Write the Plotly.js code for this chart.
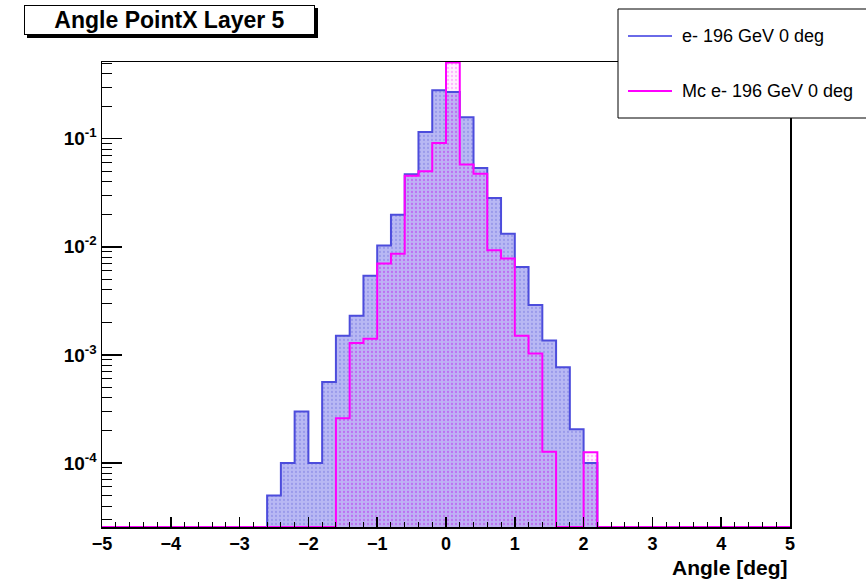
<!DOCTYPE html>
<html><head><meta charset="utf-8">
<script src="https://cdn.plot.ly/plotly-3.0.1.min.js"></script>
<style>html,body{margin:0;padding:0;background:#fff}#chart{width:866px;height:580px}</style>
</head><body><div id="chart"></div>
<script>
// ---- data ----
const histLow = -5, histHigh = 5, binWidth = 0.2;
const binCenters = [-2.5,-2.3,-2.1,-1.9,-1.7,-1.5,-1.3,-1.1,-0.9,-0.7,-0.5,-0.3,-0.1,0.1,0.3,0.5,0.7,0.9,1.1,1.3,1.5,1.7,1.9,2.1];
const dataValues = [5.0e-5,1.0e-4,3.0e-4,1.0e-4,5.6e-4,1.5e-3,2.3e-3,5.4e-3,1.03e-2,1.98e-2,4.68e-2,0.115,0.280,0.270,0.158,0.0534,0.0282,0.0132,0.0065,0.0029,0.00136,7.7e-4,2.05e-4,1.0e-4];
const mcValues = [0,0,0,0,0,2.6e-4,1.29e-3,1.41e-3,7.0e-3,8.6e-3,4.53e-2,0.050,0.091,0.505,0.0578,0.0474,0.0093,0.0078,0.0015,0.00103,1.27e-4,0,0,1.26e-4];
const dataName = "e- 196 GeV 0 deg";
const mcName = "Mc e- 196 GeV 0 deg";
const xTickVals = [-5,-4,-3,-2,-1,0,1,2,3,4,5];
const yTickVals = [1e-4,1e-3,1e-2,1e-1];
const yTickText = ["10<sup>-4</sup>","10<sup>-3</sup>","10<sup>-2</sup>","10<sup>-1</sup>"];
const titleText = "Angle PointX Layer 5";
const xTitleText = "Angle [deg]";

// ---- layout geometry ----
const W = 866, H = 580, ML = 102, MR = 76, MT = 62, MB = 53;
const PW = W - ML - MR, PH = H - MT - MB;
const px = v => (v - ML) / PW;
const py = v => (H - MB - v) / PH;
const yRange = [-4.592, -0.291];
const floorVal = Math.pow(10, yRange[0]);

function stepOutline(centers, vals) {
  const n = Math.round((histHigh - histLow) / binWidth);
  const xs = [], ys = [];
  for (let i = 0; i < n; i++) {
    const lo = histLow + i * binWidth, c = lo + binWidth / 2;
    const j = centers.findIndex(v => Math.abs(v - c) < 1e-6);
    const v = j >= 0 ? vals[j] : 0;
    xs.push(+lo.toFixed(6)); ys.push(v > 0 ? v : floorVal);
  }
  xs.push(histHigh); ys.push(ys[ys.length - 1]);
  return {xs, ys};
}
const dStep = stepOutline(binCenters, dataValues);
const mStep = stepOutline(binCenters, mcValues);

const font = 'Liberation Sans, Arial, sans-serif';
const traces = [
  {type:'bar', x:binCenters, y:dataValues.map(v=>v>0?v:null), width:binWidth, showlegend:false,
   marker:{color:'rgb(184,184,244)', line:{width:0},
     pattern:{shape:'.', fillmode:'overlay', fgcolor:'rgba(110,110,220,0.8)', size:4, solidity:0.25}}},
  {type:'bar', x:binCenters, y:mcValues.map(v=>v>0?v:null), width:binWidth, showlegend:false,
   marker:{color:'rgba(255,120,255,0.10)', line:{width:0},
     pattern:{shape:'.', fillmode:'overlay', fgcolor:'rgba(255,0,255,0.5)', size:4, solidity:0.25}}},
  {type:'scatter', mode:'lines', x:dStep.xs, y:dStep.ys, name:dataName, showlegend:false,
   line:{shape:'hv', color:'#4c4cdc', width:2}},
  {type:'scatter', mode:'lines', x:mStep.xs, y:mStep.ys, name:mcName, showlegend:false,
   line:{shape:'hv', color:'#ff00ff', width:2}}
];

const minorY = [];
for (let e = -5; e <= 0; e++) for (let k = 2; k <= 9; k++) minorY.push(k * Math.pow(10, e));

const layout = {
  width:W, height:H, margin:{l:ML, r:MR, t:MT, b:MB, pad:0},
  paper_bgcolor:'#fff', plot_bgcolor:'#fff', barmode:'overlay', bargap:0,
  font:{family:font, color:'#000'},
  xaxis:{range:[histLow, histHigh], tickvals:xTickVals, ticks:'inside', ticklen:10, tickwidth:1.5, tickcolor:'#000',
    showgrid:false, zeroline:false, showline:true, linecolor:'#000', linewidth:1.5, mirror:true,
    tickfont:{size:18, weight:'bold', family:font},
    minor:{dtick:binWidth, ticks:'inside', ticklen:5, tickwidth:1, tickcolor:'#000', showgrid:false}},
  yaxis:{type:'log', range:yRange, tickvals:yTickVals, ticktext:yTickText, ticks:'inside', ticklen:20, tickwidth:1.5, tickcolor:'#000',
    showgrid:false, zeroline:false, showline:true, linecolor:'#000', linewidth:1.5, mirror:true,
    tickfont:{size:19, weight:'bold', family:font},
    minor:{tickvals:minorY, ticks:'inside', ticklen:10, tickwidth:1, tickcolor:'#000', showgrid:false}},
  shapes:[
    {type:'rect', xref:'paper', yref:'paper', x0:px(27), x1:px(318), y0:py(8), y1:py(38), fillcolor:'#000', line:{width:0}, layer:'above'},
    {type:'rect', xref:'paper', yref:'paper', x0:px(618), x1:px(900), y0:py(9), y1:py(118), fillcolor:'#fff', line:{color:'#000', width:1}, layer:'above'},
    {type:'line', xref:'paper', yref:'paper', x0:px(628), x1:px(672), y0:py(36), y1:py(36), line:{color:'#6a6ae8', width:2}, layer:'above'},
    {type:'line', xref:'paper', yref:'paper', x0:px(628), x1:px(672), y0:py(91), y1:py(91), line:{color:'#ff00ff', width:2}, layer:'above'}
  ],
  annotations:[
    {xref:'paper', yref:'paper', x:px(169.5), y:py(20), xanchor:'center', yanchor:'middle', showarrow:false,
     text:'<b>'+titleText+'</b>', font:{size:23, family:font, color:'#000'}, bgcolor:'#fff', bordercolor:'#000', borderwidth:1, borderpad:0, width:289, height:28},
    {xref:'paper', yref:'paper', x:px(680), y:py(36), xanchor:'left', yanchor:'middle', showarrow:false,
     text:dataName, font:{size:18, family:font, color:'#000'}},
    {xref:'paper', yref:'paper', x:px(680), y:py(91), xanchor:'left', yanchor:'middle', showarrow:false,
     text:mcName, font:{size:18, family:font, color:'#000'}},
    {xref:'paper', yref:'paper', x:1, y:py(567), xanchor:'right', yanchor:'middle', showarrow:false,
     text:'<b>'+xTitleText+'</b>', font:{size:21, family:font, color:'#000'}}
  ]
};
Plotly.newPlot('chart', traces, layout, {staticPlot:true, displayModeBar:false});
</script></body></html>
